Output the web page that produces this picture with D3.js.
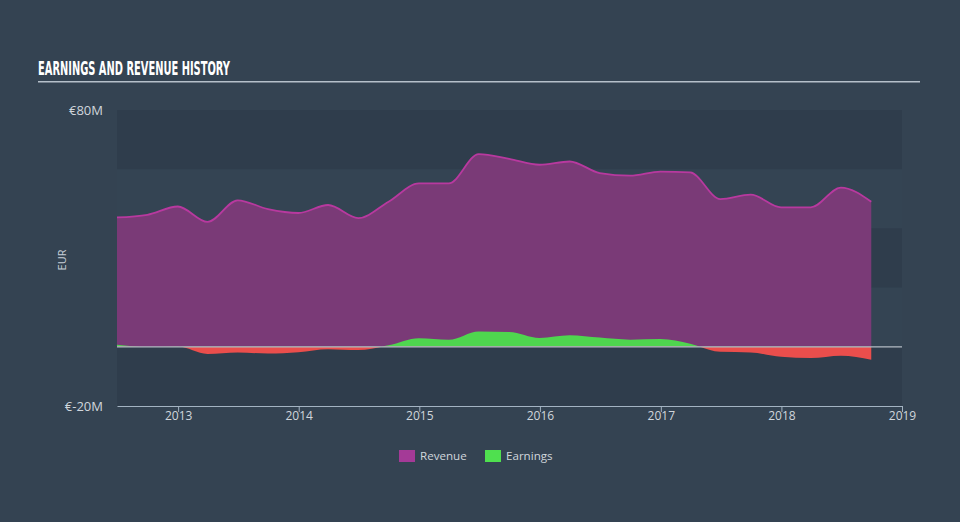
<!DOCTYPE html>
<html>
<head>
<meta charset="utf-8">
<script src="https://cdn.jsdelivr.net/npm/d3@7"></script>
<style>
  html, body { margin: 0; padding: 0; background: #344352; }
  svg { display: block; }
</style>
</head>
<body>
<svg id="chart" width="960" height="522"></svg>
<script>
const dates = [
  "2012-06-30","2012-09-30","2012-12-31","2013-03-31","2013-06-30","2013-09-30","2013-12-31",
  "2014-03-31","2014-06-30","2014-09-30","2014-12-31","2015-03-31","2015-06-30","2015-09-30",
  "2015-12-31","2016-03-31","2016-06-30","2016-09-30","2016-12-31","2017-03-31","2017-06-30",
  "2017-09-30","2017-12-31","2018-03-31","2018-06-30","2018-09-30"
];
const revenue = [43.7, 44.6, 47.4, 42.2, 49.5, 46.5, 45.2, 47.9, 43.5, 49.0, 55.2, 55.2, 65.1,
  63.5, 61.5, 62.6, 58.7, 57.8, 59.2, 58.9, 49.9, 51.4, 47.1, 47.1, 53.8, 49.0];
const earnings = [0.7, 0.0, 0.1, -2.4, -1.9, -2.3, -1.8, -0.8, -1.1, 0.5, 2.9, 2.4, 5.2,
  5.0, 3.0, 3.9, 3.1, 2.4, 2.6, 1.0, -1.7, -1.9, -3.4, -3.8, -3.0, -4.4];
const yTicks = [80, -20];
const xTickYears = [2013, 2014, 2015, 2016, 2017, 2018, 2019];
const legendItems = ["Revenue", "Earnings"];

const parse = d3.timeParse("%Y-%m-%d");
const data = dates.map((d, i) => ({ date: parse(d), rev: revenue[i], earn: earnings[i] }));

const svg = d3.select("#chart");
const L = 117, R = 902, T = 110, B = 406;

const x = d3.scaleTime().domain([parse("2012-06-30"), new Date(2019, 0, 1)]).range([L, R]);
const y = d3.scaleLinear().domain([-20, 80]).range([B, T]);

// title
svg.append("text").attr("x", 38).attr("y", 75)
  .attr("font-family", "'Liberation Sans Narrow', 'DejaVu Sans Condensed', sans-serif")
  .attr("font-weight", "bold").attr("font-size", 19).attr("fill", "#ffffff")
  .attr("textLength", 192).attr("lengthAdjust", "spacingAndGlyphs")
  .text("EARNINGS AND REVENUE HISTORY");
svg.append("rect").attr("x", 38).attr("y", 81).attr("width", 882).attr("height", 1.5).attr("fill", "#b5c0ca");

// bands
const bandVals = [80, 60, 40, 20, 0];
bandVals.forEach((v, i) => {
  svg.append("rect").attr("x", L).attr("width", R - L)
    .attr("y", y(v)).attr("height", y(v - 20) - y(v))
    .attr("fill", i % 2 === 0 ? "#2f3d4c" : "#344453");
});

// revenue area
const revArea = d3.area().curve(d3.curveMonotoneX)
  .x(d => x(d.date)).y0(y(0)).y1(d => y(d.rev));
const revLine = d3.line().curve(d3.curveMonotoneX)
  .x(d => x(d.date)).y(d => y(d.rev));
svg.append("path").datum(data).attr("d", revArea).attr("fill", "#7a3a77");
svg.append("path").datum(data).attr("d", revLine).attr("fill", "none")
  .attr("stroke", "#b8399f").attr("stroke-width", 1.8);

// earnings
const defs = svg.append("defs");
defs.append("clipPath").attr("id", "above").append("rect")
  .attr("x", L).attr("y", T - 20).attr("width", R - L).attr("height", y(0) - T + 20);
defs.append("clipPath").attr("id", "below").append("rect")
  .attr("x", L).attr("y", y(0)).attr("width", R - L).attr("height", B - y(0));
const earnArea = d3.area().curve(d3.curveMonotoneX)
  .x(d => x(d.date)).y0(y(0)).y1(d => y(d.earn));
svg.append("path").datum(data).attr("d", earnArea).attr("fill", "#4fd64f").attr("clip-path", "url(#above)");
svg.append("path").datum(data).attr("d", earnArea).attr("fill", "#ea4e4c").attr("clip-path", "url(#below)");

// zero line
svg.append("line").attr("x1", L).attr("x2", R).attr("y1", y(0)).attr("y2", y(0))
  .attr("stroke", "#b4bcc4").attr("stroke-width", 1.2);

// x axis
const xAxis = d3.axisBottom(x)
  .tickValues(xTickYears.map(yr => new Date(yr, 0, 1)))
  .tickFormat(d3.timeFormat("%Y")).tickSize(6).tickSizeOuter(0);
const gx = svg.append("g").attr("transform", `translate(0,${B})`).call(xAxis);
gx.select(".domain").attr("stroke", "#a3b3c2").attr("stroke-width", 1.2);
gx.selectAll(".tick line").attr("stroke", "#a3b3c2");
gx.selectAll(".tick text").attr("fill", "#d0d6dc").attr("font-size", 12)
  .attr("font-family", "'Open Sans', sans-serif").attr("dy", "0.95em").attr("y", 3);

// y labels
svg.selectAll(".ylab").data(yTicks).enter().append("text")
  .attr("x", 103).attr("y", d => y(d)).attr("dy", "0.35em")
  .attr("text-anchor", "end").attr("fill", "#d0d6dc").attr("font-size", 13)
  .attr("font-family", "'Open Sans', sans-serif")
  .text(d => "€" + d + "M");

svg.append("text").attr("transform", "translate(66,260) rotate(-90)")
  .attr("text-anchor", "middle").attr("fill", "#c8d0d8").attr("font-size", 11)
  .attr("font-family", "'Open Sans', sans-serif").text("EUR");

// legend
const legColors = ["#a43a97", "#4fe04f"];
const legX = [399, 485];
legendItems.forEach((name, i) => {
  svg.append("rect").attr("x", legX[i]).attr("y", 450).attr("width", 16).attr("height", 12)
    .attr("fill", legColors[i]);
  svg.append("text").attr("x", legX[i] + 21).attr("y", 456).attr("dy", "0.35em")
    .attr("fill", "#d0d6dc").attr("font-size", 11.6)
    .attr("font-family", "'Open Sans', sans-serif").text(name);
});
</script>
</body>
</html>
